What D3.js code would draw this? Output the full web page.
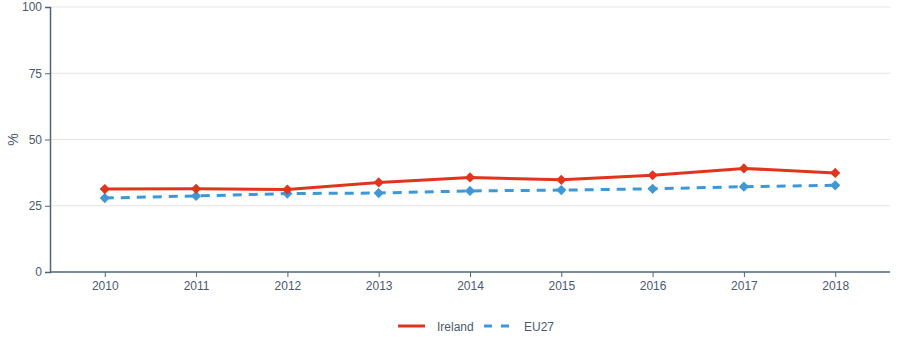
<!DOCTYPE html>
<html><head><meta charset="utf-8">
<script src="https://cdn.jsdelivr.net/npm/d3@7"></script>
<style>body{margin:0;background:#fff;}svg{display:block;font-family:"Liberation Sans",Arial,sans-serif;}</style>
</head><body><svg id="c" width="898" height="359"></svg>
<script>
const years = ["2010","2011","2012","2013","2014","2015","2016","2017","2018"];
const ireland = [31.3,31.4,31.1,33.8,35.7,34.8,36.5,39.1,37.4];
const eu27 = [27.9,28.7,29.6,29.8,30.6,30.9,31.4,32.2,32.7];
const yTicks = [0,25,50,75,100];
const seriesNames = ["Ireland","EU27"];

const svg = d3.select("#c");
const m = {l:50,r:8,t:7,b:87};
const W = 898, H = 359;
const x = d3.scalePoint().domain(years).range([m.l, W-m.r]).padding(0.6);
const y = d3.scaleLinear().domain([0,100]).range([H-m.b, m.t]);
const axisCol = "#4f6478", textCol = "#4a5a6e";

// grid
svg.append("g").selectAll("line").data(yTicks.filter(d=>d>0)).join("line")
  .attr("x1", m.l).attr("x2", W-m.r).attr("y1", d=>y(d)).attr("y2", d=>y(d))
  .attr("stroke","#e4e4e4").attr("stroke-width",1);

const ya = svg.append("g").attr("transform",`translate(${m.l},0)`)
  .call(d3.axisLeft(y).tickValues(yTicks).tickSize(5).tickPadding(3));
const xa = svg.append("g").attr("transform",`translate(0,${H-m.b})`)
  .call(d3.axisBottom(x).tickSize(5).tickPadding(4).tickSizeOuter(0));
xa.select(".domain").attr("d", `M${m.l},0H${W-m.r}`);
[ya,xa].forEach(a=>{
  a.attr("font-size",12).attr("font-family","Liberation Sans, Arial, sans-serif");
  a.selectAll(".domain").attr("stroke",axisCol).attr("stroke-width",1.5);
  a.selectAll(".tick line").attr("stroke",axisCol);
  a.selectAll("text").attr("fill",textCol);
});

svg.append("text").attr("transform",`translate(18,${y(50)}) rotate(-90)`)
  .attr("text-anchor","middle").attr("fill",textCol).attr("font-size",14).text("%");

const series = [
  {name:seriesNames[0], vals:ireland, color:"#e2341d", dash:null},
  {name:seriesNames[1], vals:eu27, color:"#3f98d6", dash:"9,7"}
];
const line = d3.line().x((d,i)=>x(years[i])).y(d=>y(d));
const marker = d3.symbol().type(d3.symbolSquare).size(52);
series.slice().reverse().forEach(s=>{
  svg.append("path").attr("d", line(s.vals)).attr("fill","none")
    .attr("stroke", s.color).attr("stroke-width",3).attr("stroke-dasharray", s.dash);
  svg.append("g").selectAll("path").data(s.vals).join("path")
    .attr("transform",(d,i)=>`translate(${x(years[i])},${y(d)}) rotate(45)`)
    .attr("d", marker()).attr("fill", s.color);
});

// legend
const lg = svg.append("g").attr("transform","translate(398,326)");
const items = [{s:series[0], x:0, tx:39},{s:series[1], x:86, tx:126}];
items.forEach(it=>{
  lg.append("line").attr("x1",it.x).attr("x2",it.x+27).attr("y1",0).attr("y2",0)
    .attr("stroke",it.s.color).attr("stroke-width",3).attr("stroke-dasharray", it.s.dash ? "8,9" : null);
  lg.append("text").attr("x",it.tx).attr("y",4.5).attr("fill",textCol).attr("font-size",12).text(it.s.name);
});
</script></body></html>
